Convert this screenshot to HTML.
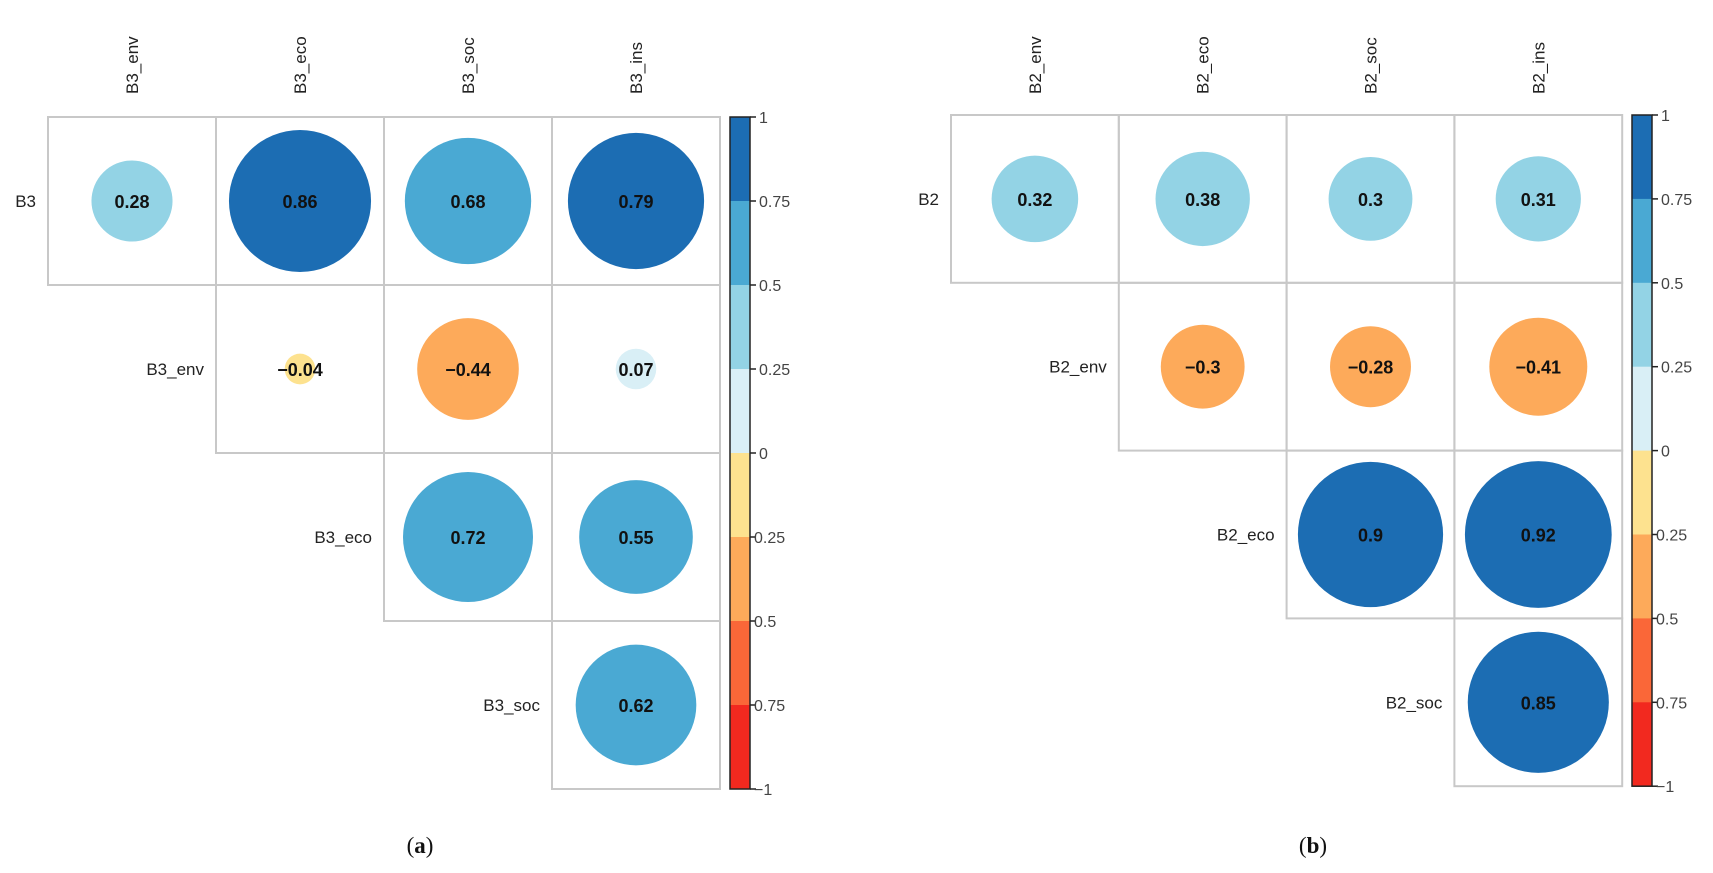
<!DOCTYPE html>
<html><head><meta charset="utf-8">
<style>
html,body{margin:0;padding:0;background:#fff;}
svg{display:block;}
</style></head>
<body>
<svg id="fig" width="1713" height="873" viewBox="0 0 1713 873" xmlns="http://www.w3.org/2000/svg"></svg>
<script>
const rowLabelsA = ["B3","B3_env","B3_eco","B3_soc"];
const colLabelsA = ["B3_env","B3_eco","B3_soc","B3_ins"];
const valuesA = [[0.28,0.86,0.68,0.79],[null,-0.04,-0.44,0.07],[null,null,0.72,0.55],[null,null,null,0.62]];
const labelsA = [["0.28","0.86","0.68","0.79"],[null,"\u22120.04","\u22120.44","0.07"],[null,null,"0.72","0.55"],[null,null,null,"0.62"]];
const rowLabelsB = ["B2","B2_env","B2_eco","B2_soc"];
const colLabelsB = ["B2_env","B2_eco","B2_soc","B2_ins"];
const valuesB = [[0.32,0.38,0.3,0.31],[null,-0.3,-0.28,-0.41],[null,null,0.9,0.92],[null,null,null,0.85]];
const labelsB = [["0.32","0.38","0.3","0.31"],[null,"\u22120.3","\u22120.28","\u22120.41"],[null,null,"0.9","0.92"],[null,null,null,"0.85"]];
const colorTicks = [1,0.75,0.5,0.25,0,-0.25,-0.5,-0.75,-1];
const colorTickLabels = ["1","0.75","0.5","0.25","0","0.25","0.5","0.75","\u22121"];
const bandColors = ["#1c6db3","#4aa9d3","#93d3e5","#d9eff6","#fde28f","#fdaa5a","#fa6738","#f2291f"];

const NS="http://www.w3.org/2000/svg";
const svg=document.getElementById('fig');
function mk(tag,attrs,parent){const e=document.createElementNS(NS,tag);for(const k in attrs)e.setAttribute(k,attrs[k]);(parent||svg).appendChild(e);return e;}
function colorFor(v){let i=Math.floor((1-v)/0.25);if(i<0)i=0;if(i>7)i=7;return bandColors[i];}

function panel(id,x0,y0,cell,rows,cols,vals,labs,cbx,caption,capx){
  const g=mk('g',{});
  
  
  const xs=c=>x0+c*cell, ys=r=>y0+r*cell;
  const R=cell*0.456;
  // column labels
  cols.forEach((c,j)=>{
    const cx=xs(j)+cell/2;
    const t=mk('text',{x:0,y:0,transform:`translate(${cx+6},94) rotate(-90)`,'font-family':'Liberation Sans, sans-serif','font-size':'17',fill:'#222'},g);
    t.textContent=c;
    
    
  });
  rows.forEach((r,i)=>{
    const t=mk('text',{x:xs(i)-12,y:ys(i)+cell/2+6,'text-anchor':'end','font-family':'Liberation Sans, sans-serif','font-size':'17',fill:'#222'},g);
    t.textContent=r;
    
    
    for(let j=i;j<cols.length;j++){
      const v=vals[i][j];
      const rc=mk('rect',{x:xs(j),y:ys(i),width:cell,height:cell,fill:'none',stroke:'#c8c8c8','stroke-width':'2'},g);
      
      
      if(v===null)continue;
      const ci=mk('circle',{cx:xs(j)+cell/2,cy:ys(i)+cell/2,r:R*Math.sqrt(Math.abs(v)),fill:colorFor(v)},g);
      
      
      const tv=mk('text',{x:xs(j)+cell/2,y:ys(i)+cell/2+7,'text-anchor':'middle','font-family':'Liberation Sans, sans-serif','font-size':'18','font-weight':'bold',fill:'#111'},g);
      tv.textContent=labs[i][j];
      
      
    }
  });
  // colorbar
  const top=y0, h=cell*4, w=20;
  const cb=mk('g',{},g);
  
  
  const cy=v=>top+(1-v)/2*h;
  for(let k=0;k<8;k++){
    const rr=mk('rect',{x:cbx,y:cy(1-k*0.25),width:w,height:h/8+0.5,fill:bandColors[k]},cb);
    
    
  }
  mk('rect',{x:cbx,y:top,width:w,height:h,fill:'none',stroke:'#222','stroke-width':'1.5'},cb);
  colorTicks.forEach((v,k)=>{
    mk('line',{x1:cbx+w,x2:cbx+w+6,y1:cy(v),y2:cy(v),stroke:'#222','stroke-width':'1.5'},cb);
    const t=mk('text',{x:cbx+w+(colorTickLabels[k]===String(v)||v>=0?9:4),y:cy(v)+6,'font-family':'Liberation Sans, sans-serif','font-size':'16',fill:'#444'},cb);
    t.textContent=colorTickLabels[k];
    
    
  });
  const cap=mk('text',{x:capx,y:853,'text-anchor':'middle','font-family':'Liberation Serif, serif','font-size':'23',fill:'#111'},g);
  cap.innerHTML='(<tspan font-weight="bold">'+caption+'</tspan>)';
  
  
}
panel('a',48,117,168,rowLabelsA,colLabelsA,valuesA,labelsA,730,'a',420);
panel('b',951,115,167.8,rowLabelsB,colLabelsB,valuesB,labelsB,1632,'b',1313);
</script>
</body></html>
